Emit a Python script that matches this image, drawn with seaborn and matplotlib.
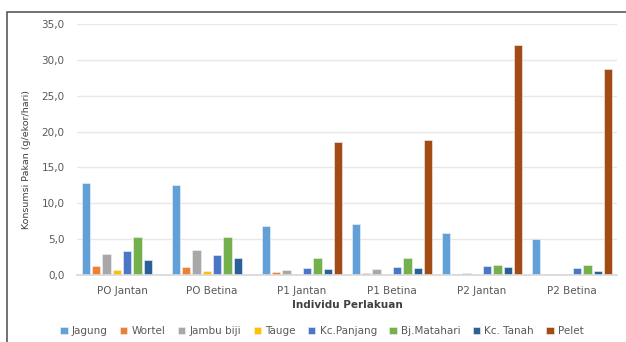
import matplotlib
matplotlib.use("Agg")
import matplotlib.pyplot as plt
import seaborn as sns
import pandas as pd
from matplotlib.patches import Rectangle

groups = ["PO Jantan", "PO Betina", "P1 Jantan", "P1 Betina", "P2 Jantan", "P2 Betina"]
feeds = ["Jagung", "Wortel", "Jambu biji", "Tauge", "Kc.Panjang", "Bj.Matahari", "Kc. Tanah", "Pelet"]

jagung      = [12.8, 12.5, 6.8, 7.1, 5.8, 5.0]
wortel      = [1.3, 1.1, 0.4, 0.3, 0.2, 0.1]
jambu_biji  = [2.9, 3.5, 0.7, 0.9, 0.3, 0.2]
tauge       = [0.7, 0.6, 0.2, 0.2, 0.1, 0.1]
kc_panjang  = [3.3, 2.8, 1.0, 1.1, 1.3, 1.0]
bj_matahari = [5.3, 5.3, 2.4, 2.4, 1.4, 1.4]
kc_tanah    = [2.1, 2.4, 0.9, 1.0, 1.1, 0.6]
pelet       = [0.0, 0.0, 18.5, 18.8, 32.1, 28.7]

colors = ["#62A0D8", "#EE7F33", "#A8A8A8", "#FFC000", "#4A76C6", "#74B04B", "#2A6198", "#A34B14"]

series = [jagung, wortel, jambu_biji, tauge, kc_panjang, bj_matahari, kc_tanah, pelet]
rows = []
for feed, vals in zip(feeds, series):
    for g, v in zip(groups, vals):
        rows.append({"Individu": g, "Pakan": feed, "Konsumsi": v})
df = pd.DataFrame(rows)

sns.set_theme(style="white")
plt.rcParams["font.family"] = ["DejaVu Sans"]

fig = plt.figure(figsize=(6.26, 3.42), dpi=100)
ax = fig.add_axes([77 / 626, 1 - 275 / 342, (617 - 77) / 626, (275 - 24) / 342])

sns.barplot(data=df, x="Individu", y="Konsumsi", hue="Pakan", order=groups,
            hue_order=feeds, palette=colors, width=0.92, gap=0.2,
            errorbar=None, ax=ax, legend=True, saturation=1,
            edgecolor="#F4F4F4", linewidth=0.4)

ax.set_ylim(0, 35)
ax.set_yticks(range(0, 36, 5))
ax.set_yticklabels([f"{v},0" for v in range(0, 36, 5)])
ax.yaxis.grid(True, color="#E8E8E8", linewidth=1)
ax.set_axisbelow(True)
for side in ["top", "right", "left"]:
    ax.spines[side].set_visible(False)
ax.spines["bottom"].set_color("#D9D9D9")
ax.tick_params(axis="both", length=0, labelsize=7.5, labelcolor="#595959")
ax.tick_params(axis="y", pad=9)
ax.tick_params(axis="x", pad=8)
ax.set_xlabel("Individu Perlakuan", fontsize=7.5, fontweight="bold", color="#404040", labelpad=3)
ax.set_ylabel("Konsumsi Pakan (g/ekor/hari)", fontsize=6.8, color="#404040")
ax.yaxis.set_label_coords(-0.085, 0.46)

handles, labels = ax.get_legend_handles_labels()
ax.get_legend().remove()
fig.legend(handles, labels, loc="center", bbox_to_anchor=(322 / 626, 1 - 331 / 342),
           ncol=8, frameon=False, fontsize=7.5, handlelength=0.7, handleheight=0.7,
           handletextpad=0.4, columnspacing=1.2, labelcolor="#595959")

# outer frame of the chart area
fig.patches.append(Rectangle((7 / 626, -0.05), 1.2, 1 - 12 / 342 + 0.05,
                             transform=fig.transFigure, fill=False,
                             edgecolor="#595959", linewidth=1.2))

fig.savefig("out.png", dpi=100)
